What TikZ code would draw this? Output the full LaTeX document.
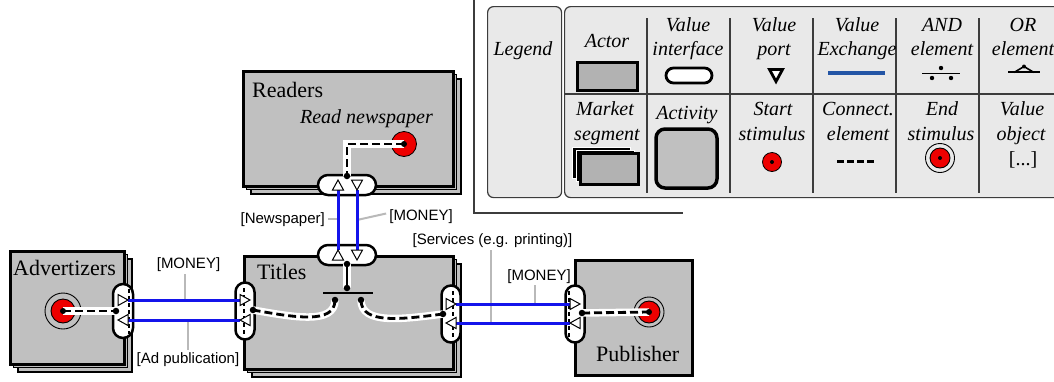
\documentclass[tikz,border=0pt]{standalone}
\usepackage{fontspec}
\setmainfont{Liberation Serif}
\newfontfamily\arialf{Liberation Sans}
\usetikzlibrary{calc}
\definecolor{actgray}{RGB}{192,192,192}
\definecolor{leggray}{RGB}{233,233,233}
\definecolor{legact}{RGB}{178,178,178}
\definecolor{vxblue}{RGB}{20,20,235}
\definecolor{legblue}{RGB}{35,85,165}
\definecolor{leadgray}{RGB}{185,185,185}
\definecolor{stimred}{RGB}{238,0,0}
\definecolor{framegray}{RGB}{60,60,60}
\tikzset{
  actorbox/.style={draw=black, line width=2.5pt, fill=actgray, inner sep=0pt, anchor=north west},
  stackbox/.style={draw=black, line width=1.5pt, fill=actgray},
  iface/.style={draw=black, line width=2.5pt, fill=white, inner sep=0pt},
  portst/.style={draw=black, line width=1pt, fill=white, line join=miter},
  vx/.style={draw=vxblue, line width=3pt},
  leader/.style={draw=leadgray, line width=2pt},
  conn/.style={draw=black, line width=2.8pt, dash pattern=on 8pt off 4pt,
    preaction={draw=white, line width=7.5pt, solid}},
  dotst/.style={circle, fill=black, inner sep=0pt, minimum size=6.5pt},
  lbl/.style={font=\arialf\fontsize{15}{17}\selectfont, inner sep=0pt},
  ttl/.style={font=\fontsize{22}{26}\selectfont, inner sep=0pt, anchor=base west},
  legtext/.style={font=\itshape\fontsize{20}{24}\selectfont, inner sep=0pt, anchor=base},
  legbox/.style={draw=framegray, line width=1.2pt, fill=leggray, rounded corners=6pt, inner sep=0pt, anchor=north west},
  divline/.style={draw=framegray, line width=1.2pt},
  portpic/.pic={\path[portst] (-5,-5.5) -- (5,0) -- (-5,5.5) -- cycle;}
}
\begin{document}
\begin{tikzpicture}[x=1pt,y=-1pt]
\clip (0,0) rectangle (1054,381);
\fill[white] (0,0) rectangle (1054,381);

% ---------------- legend ----------------
\draw[divline, line width=1.4pt] (474,0) -- (474,213) -- (683,213);
\node[legbox, minimum width=74pt, minimum height=191pt] (legA) at (487,6) {};
\node[legbox, minimum width=520pt, minimum height=191pt] (legB) at (564,6) {};
\foreach \xx in {647,730,813,896,979} \draw[divline] (\xx,18) -- (\xx,193);
\draw[divline] (564,94) -- (1054,94);

\node[legtext] (lgT0) at (523,55) {Legend};
\node[legtext] (lgT1) at (607,47) {Actor};
\node[legtext] (lgT2a) at (688,31) {Value};
\node[legtext] (lgT2b) at (688,55) {interface};
\node[legtext] (lgT3a) at (774,31) {Value};
\node[legtext] (lgT3b) at (774,55) {port};
\node[legtext] (lgT4a) at (857,31) {Value};
\node[legtext] (lgT4b) at (857,55) {Exchange};
\node[legtext] (lgT5a) at (942,31) {AND};
\node[legtext] (lgT5b) at (942,55) {element};
\node[legtext] (lgT6a) at (1023,31) {OR};
\node[legtext] (lgT6b) at (1023,55) {element};
\node[legtext] (lgT7a) at (605,115) {Market};
\node[legtext] (lgT7b) at (607,140) {segment};
\node[legtext] (lgT8) at (687,119) {Activity};
\node[legtext] (lgT9a) at (773,115) {Start};
\node[legtext] (lgT9b) at (772,140) {stimulus};
\node[legtext] (lgT10a) at (858,115) {Connect.};
\node[legtext] (lgT10b) at (858,140) {element};
\node[legtext] (lgT11a) at (942,115) {End};
\node[legtext] (lgT11b) at (941,140) {stimulus};
\node[legtext] (lgT12a) at (1022,115) {Value};
\node[legtext] (lgT12b) at (1021,140) {object};
\node[legtext, font=\fontsize{20}{24}\selectfont] (lgT12c) at (1023,165) {[...]};

% legend symbols
\node[draw=black, line width=3pt, fill=legact, minimum width=60pt, minimum height=28pt, inner sep=0pt] (lgActor) at (607,76) {};
\node[draw=black, line width=2.8pt, fill=white, minimum width=46pt, minimum height=15pt, rounded corners=7.5pt, inner sep=0pt] (lgIface) at (689,75.5) {};
\draw[black, line width=2.8pt, fill=white, line join=miter] (769.5,69.5) -- (782.5,69.5) -- (776,81.5) -- cycle;
\draw[legblue, line width=3.5pt] (828,73) -- (885,73);
\draw[black, line width=1pt] (922,73) -- (960,73);
\fill (941,68) circle (2.2pt) (932,78) circle (2.2pt) (951,78) circle (2.2pt);
\draw[black, line width=1.2pt] (1008,72) -- (1040,72);
\draw[black, line width=1.6pt] (1014,72.5) -- (1024,66.5) -- (1034,72.5);
\fill (1024,66.5) circle (2pt);
\draw[fill=black, draw=white, line width=0.6pt] (572,147) rectangle (630,178);
\draw[fill=black, draw=white, line width=0.6pt] (576,150) rectangle (634,181);
\draw[fill=legact, draw=black, line width=3pt] (580,153) rectangle (638,184);
\draw[fill=actgray, draw=black, line width=3.5pt, rounded corners=9pt] (656,129) rectangle (717,188);
\filldraw[fill=stimred, draw=black, line width=0.8pt] (772,162) circle (9.5pt);
\fill (772,162) circle (2pt);
\draw[black, line width=3pt, dash pattern=on 7pt off 3pt] (837,161) -- (875,161);
\draw[black, line width=0.9pt] (940,158) circle (14.5pt);
\filldraw[fill=stimred, draw=black, line width=0.9pt] (940,158) circle (10pt);
\fill (940,158) circle (2pt);

% ---------------- actors ----------------
\draw[stackbox] (18,259) rectangle (132,372);
\draw[stackbox] (13.5,254.5) rectangle (127.5,367.5);
\node[actorbox, minimum width=114pt, minimum height=113pt] (adv) at (9,250) {};

\draw[stackbox] (251,79) rectangle (461,194);
\draw[stackbox] (246.5,74.5) rectangle (456.5,189.5);
\node[actorbox, minimum width=210pt, minimum height=115pt] (rd) at (242,70) {};

\draw[stackbox] (252,264) rectangle (461,377);
\draw[stackbox] (247.5,259.5) rectangle (456.5,372.5);
\node[actorbox, minimum width=209pt, minimum height=113pt] (tit) at (243,255) {};

\node[actorbox, minimum width=117pt, minimum height=115pt] (pub) at (574,259) {};

% titles
\node[ttl] (tRd) at (252,97) {Readers};
\node[ttl, anchor=base east, font=\itshape\fontsize{20}{24}\selectfont] (tRdA) at (433,123) {Read newspaper};
\node[ttl] (tTit) at (257,279) {Titles};
\node[ttl] (tAdv) at (13,275) {Advertizers};
\node[ttl] (tPub) at (596,361) {Publisher};

% ---------------- labels and leaders ----------------
\node[lbl, anchor=east] (lNews) at (325,220) {[Newspaper]};
\node[lbl] (lMon1) at (421,216.5) {[MONEY]};
\node[lbl] (lMon2) at (188.5,265) {[MONEY]};
\node[lbl] (lAd) at (188,360) {[Ad publication]};
\node[lbl] (lMon3) at (539,276.5) {[MONEY]};
\node[lbl] (lSrv) at (492.5,241) {[Services (e.g. printing)]};

\coordinate (ldNews) at (338,219);
\coordinate (ldMon1) at (357,220);
\coordinate (ldMon2) at (185,300);
\coordinate (ldAd) at (188,320);
\coordinate (ldMon3) at (535,304);
\coordinate (ldSrv) at (491,323);
\draw[leader] (lNews.east) ++(3,-1) -- (ldNews);
\draw[leader] (lMon1.west) ++(-3,-3) -- (ldMon1);
\draw[leader] (lMon2.south) ++(-3.5,2) -- (ldMon2);
\draw[leader] (lAd.north) ++(0,-3) -- (ldAd);
\draw[leader] (lMon3.south) ++(-4,1.5) -- (ldMon3);
\draw[leader] (lSrv.south) ++(-1.5,2) -- (ldSrv);

% ---------------- value interfaces ----------------
\node[iface, minimum width=58pt, minimum height=20pt, rounded corners=10pt] (rdB) at (347,185) {};
\node[iface, minimum width=58pt, minimum height=20pt, rounded corners=10pt] (titT) at (347,255) {};
\node[iface, minimum width=20pt, minimum height=54pt, rounded corners=10pt] (advR) at (123,311) {};
\node[iface, minimum width=19pt, minimum height=57pt, rounded corners=9.5pt] (titL) at (245,311) {};
\node[iface, minimum width=19pt, minimum height=57pt, rounded corners=9.5pt] (titR) at (451,314) {};
\node[iface, minimum width=19pt, minimum height=57pt, rounded corners=9.5pt] (pubL) at (575,314) {};

\draw[black, line width=1.3pt, dash pattern=on 4pt off 3pt] (129,289) -- (129,334);
\draw[black, line width=1.3pt, dash pattern=on 4pt off 3pt] (244,288) -- (244,336);
\draw[black, line width=1.3pt, dash pattern=on 4pt off 3pt] (453,291) -- (453,339);
\draw[black, line width=1.3pt, dash pattern=on 4pt off 3pt] (569,291) -- (569,339);

% ---------------- value exchanges ----------------
\coordinate (xA1) at (128,300); \coordinate (xA2) at (240,300);
\coordinate (xA3) at (240,320); \coordinate (xA4) at (128,320);
\coordinate (xP1) at (456,304); \coordinate (xP2) at (570,304);
\coordinate (xP3) at (570,323); \coordinate (xP4) at (456,323);
\coordinate (xR1) at (338,250); \coordinate (xR2) at (338,190);
\coordinate (xR3) at (357,190); \coordinate (xR4) at (357,250);
\draw[vx] (xA1) -- (xA2);
\draw[vx] (xA3) -- (xA4);
\draw[vx] (xP1) -- (xP2);
\draw[vx] (xP3) -- (xP4);
\draw[vx] (xR1) -- (xR2);
\draw[vx] (xR3) -- (xR4);

% value ports
\pic at (123,300) {portpic};
\pic[rotate=180] at (123,320) {portpic};
\pic at (245,300) {portpic};
\pic[rotate=180] at (245,320) {portpic};
\pic at (451,304) {portpic};
\pic[rotate=180] at (451,323) {portpic};
\pic at (575,304) {portpic};
\pic[rotate=180] at (575,323) {portpic};
\pic[rotate=90] at (338,185) {portpic};
\pic[rotate=-90] at (357,185) {portpic};
\pic[rotate=90] at (338,255) {portpic};
\pic[rotate=-90] at (357,255) {portpic};

% ---------------- stimuli ----------------
\node[circle, draw=black, line width=0.8pt, fill=stimred, minimum size=25pt, inner sep=0pt] (rdS) at (404,144) {};
\node[circle, draw=black, line width=0.9pt, minimum size=36pt, inner sep=0pt] (advSo) at (63,311) {};
\node[circle, draw=black, line width=0.9pt, fill=stimred, minimum size=24pt, inner sep=0pt] (advS) at (63,311) {};
\node[circle, draw=black, line width=0.9pt, minimum size=30pt, inner sep=0pt] (pubSo) at (649,312) {};
\node[circle, draw=black, line width=0.9pt, fill=stimred, minimum size=22pt, inner sep=0pt] (pubS) at (649,312) {};

% ---------------- connection elements ----------------
\coordinate (rdD) at (347,176);
\coordinate (rdC) at (347,144);
\coordinate (titTD) at (347,264);
\coordinate (andT) at (347,288);
\coordinate (andL) at (335,300);
\coordinate (andR) at (361,300);
\coordinate (titLD) at (253,310);
\coordinate (titRD) at (443,314);
\coordinate (advD) at (116,311);
\coordinate (pubD) at (582,313);

\draw[conn] (rdS.center) -- (rdC) -- (rdD);
\draw[conn, solid] (titTD) -- (andT);
\draw[conn] (andL) .. controls +(0,25) and +(40,7) .. (titLD);
\draw[conn] (andR) .. controls +(0,25) and +(-40,5) .. (titRD);
\draw[conn] (advS.center) -- (advD);
\draw[conn] (pubD) -- (pubS.center);

% AND element
\draw[black, line width=1.5pt] (323,293) -- (373,293);

% dots
\foreach \dd in {rdD,titTD,andT,andL,andR,titLD,titRD,advD,pubD}
  \node[dotst] (d\dd) at (\dd) {};
\node[dotst, minimum size=6pt] (drdS) at (rdS.center) {};
\node[dotst, minimum size=6pt] (dadvS) at (advS.center) {};
\node[dotst, minimum size=6pt] (dpubS) at (pubS.center) {};
\end{tikzpicture}
\end{document}
